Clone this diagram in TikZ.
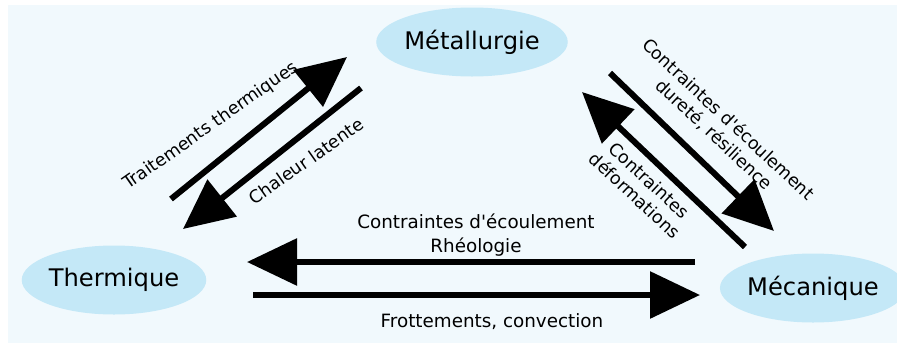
\documentclass[tikz,border=0pt]{standalone}
\usepackage{fontspec}
\setmainfont{DejaVu Sans}[Ligatures=TeXOff]
\usetikzlibrary{arrows.meta,shapes.geometric}
\definecolor{fondbleu}{HTML}{F1F9FD}
\definecolor{bulle}{HTML}{C4E8F7}
\tikzset{
	domaine/.style={ellipse, fill=bulle, minimum width=182bp, minimum height=69bp, inner sep=0pt, font=\fontsize{24.3}{29}\selectfont},
	couplage/.style={line width=6bp, -{Triangle[length=50bp,width=46bp]}},
	legende/.style={align=center, inner sep=0pt, font=\fontsize{18.4}{24}\selectfont},
	legende oblique/.style={legende, font=\fontsize{17.6}{21}\selectfont}
}
\begin{document}
\begin{tikzpicture}[x=1bp, y=-1bp]
	\useasboundingbox (0,0) rectangle (897,343);
	\fill[fondbleu] (8,5) rectangle (897,343);

	\node[domaine] (metal) at (472,42) {Métallurgie};
	\node[domaine] (therm) at (114,280) {Thermique};
	\node[domaine] (meca) at (813,288) {Mécanique};

	\coordinate (tt1) at (171,199);  \coordinate (tt2) at (347,57);
	\coordinate (cl1) at (361,88);   \coordinate (cl2) at (183,229);
	\coordinate (rh1) at (695,262);  \coordinate (rh2) at (247,262);
	\coordinate (fc1) at (253,295);  \coordinate (fc2) at (700,295);
	\coordinate (df1) at (745,247);  \coordinate (df2) at (582,92);
	\coordinate (dr1) at (610,73);   \coordinate (dr2) at (774,231);

	\draw[couplage] (tt1) -- (tt2);
	\draw[couplage] (cl1) -- (cl2);
	\draw[couplage] (rh1) -- (rh2);
	\draw[couplage] (fc1) -- (fc2);
	\draw[couplage] (df1) -- (df2);
	\draw[couplage] (dr1) -- (dr2);

	\node[legende oblique, rotate=35] (ltt) at (211,126) {Traitements thermiques};
	\node[legende oblique, rotate=35] (lcl) at (306,161) {Chaleur latente};
	\node[legende] (lrh) at (476,235) {Contraintes d'écoulement\\Rhéologie};
	\node[legende] (lfc) at (492,322) {Frottements, convection};
	\node[legende oblique, rotate=-43] (ldr) at (721,127) {Contraintes d'écoulement\\dureté, résilience};
	\node[legende oblique, rotate=-43] (ldf) at (642,188) {Contraintes\\déformations};
\end{tikzpicture}
\end{document}
